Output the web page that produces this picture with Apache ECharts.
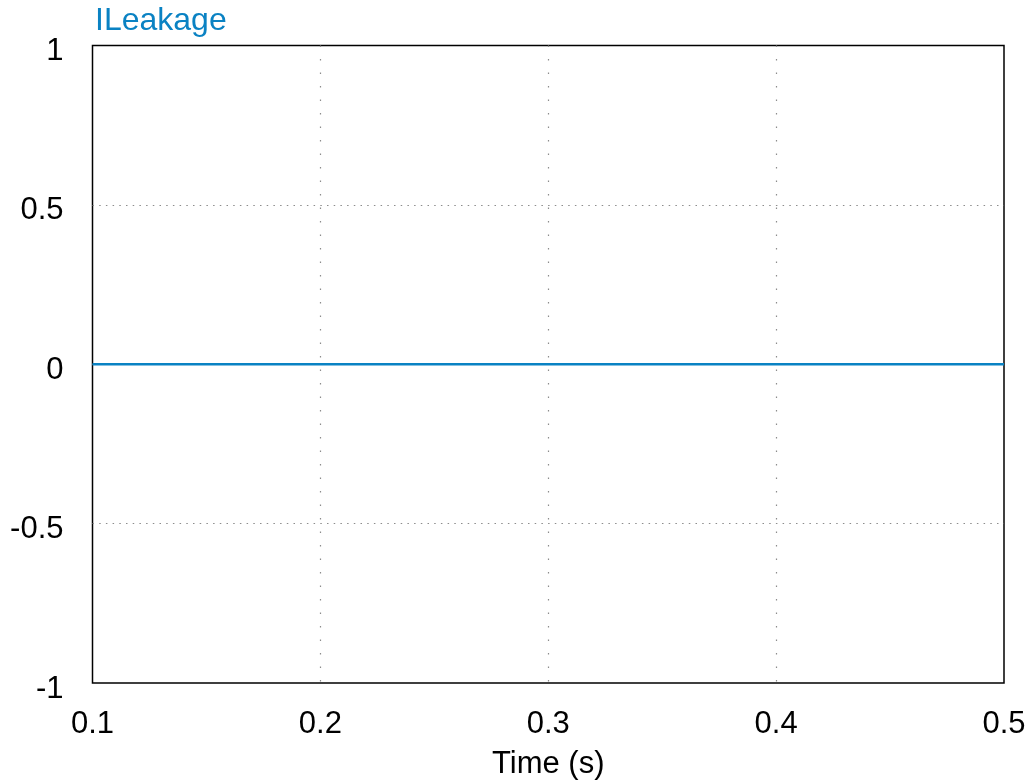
<!DOCTYPE html>
<html>
<head>
<meta charset="utf-8">
<script src="https://cdn.jsdelivr.net/npm/echarts@6/dist/echarts.min.js"></script>
<style>
  html, body { margin: 0; padding: 0; background: #ffffff; }
  #chart { width: 1032px; height: 780px; }
</style>
</head>
<body>
<div id="chart"></div>
<script>
// Leakage current over simulation time
const seriesName = 'ILeakage';
const timeValues = [0.1, 0.2, 0.3, 0.4, 0.5];
const leakageValues = [0, 0, 0, 0, 0];
const xTicks = [0.1, 0.2, 0.3, 0.4, 0.5];
const yTicks = [-1, -0.5, 0, 0.5, 1];

const lineColor = '#0a82c3';
const fontFamily = 'Arial, "Liberation Sans", sans-serif';
const labelSize = 31;

const chart = echarts.init(document.getElementById('chart'), null, { renderer: 'canvas' });

chart.setOption({
  animation: false,
  backgroundColor: '#ffffff',
  title: {
    text: seriesName,
    left: 95,
    top: 5,
    padding: 0,
    textStyle: { color: lineColor, fontSize: 32, fontWeight: 'normal', fontFamily: fontFamily }
  },
  grid: {
    left: 92.5,
    right: 28,
    top: 45.5,
    bottom: 97,
    outerBoundsMode: 'none',
    containLabel: false,
    show: true,
    borderColor: '#000000',
    borderWidth: 1.5,
    backgroundColor: 'transparent'
  },
  xAxis: {
    type: 'value',
    min: xTicks[0],
    max: xTicks[xTicks.length - 1],
    interval: 0.1,
    name: 'Time (s)',
    nameLocation: 'middle',
    nameGap: 66,
    nameTextStyle: { color: '#000000', fontSize: labelSize, fontFamily: fontFamily },
    axisLine: { show: false },
    axisTick: { show: false },
    axisLabel: {
      color: '#000000',
      fontSize: labelSize,
      fontFamily: fontFamily,
      margin: 26,
      showMinLabel: true,
      showMaxLabel: true,
      formatter: v => String(Math.round(v * 10) / 10)
    },
    splitLine: {
      show: true,
      showMinLine: false,
      showMaxLine: false,
      lineStyle: { color: '#8c8c8c', width: 1.2, type: [1.5, 12] }
    }
  },
  yAxis: {
    type: 'value',
    min: yTicks[0],
    max: yTicks[yTicks.length - 1],
    interval: 0.5,
    axisLine: { show: false },
    axisTick: { show: false },
    axisLabel: {
      margin: 29,
      showMinLabel: true,
      showMaxLabel: true,
      formatter: v => '{t|' + String(v) + '}',
      rich: {
        t: {
          color: '#000000',
          fontSize: labelSize,
          fontFamily: fontFamily,
          padding: [12, 0, 0, 0]
        }
      }
    },
    splitLine: {
      show: true,
      showMinLine: false,
      showMaxLine: false,
      lineStyle: { color: '#8c8c8c', width: 1.2, type: [1.5, 5.2] }
    }
  },
  series: [{
    name: seriesName,
    type: 'line',
    data: timeValues.map((t, i) => [t, leakageValues[i]]),
    showSymbol: false,
    lineStyle: { color: lineColor, width: 2.5 },
    z: 3
  }]
});
</script>
</body>
</html>
